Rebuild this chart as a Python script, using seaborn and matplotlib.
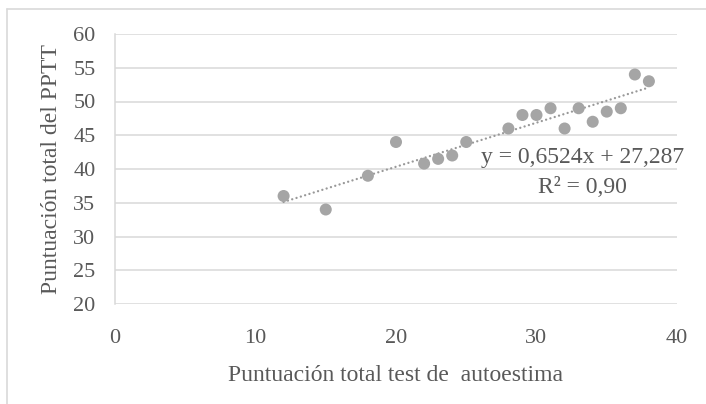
import numpy as np
import pandas as pd
import matplotlib
matplotlib.use("Agg")
import matplotlib.pyplot as plt
import seaborn as sns
from matplotlib.lines import Line2D

# data
autoestima = [12, 15, 18, 20, 22, 23, 24, 25, 28, 29, 30, 31, 32, 33, 34, 35, 36, 37, 38]
pptt = [36, 34, 39, 44, 40.8, 41.5, 42, 44, 46, 48, 48, 49, 46, 49, 47, 48.5, 49, 54, 53]
slope = 0.6524
intercept = 27.287
r2 = 0.90

x_ticks = [0, 10, 20, 30, 40]
y_ticks = [20, 25, 30, 35, 40, 45, 50, 55, 60]

df = pd.DataFrame({'x': autoestima, 'y': pptt})

sns.set_theme(style="whitegrid")
plt.rcParams['font.family'] = ['Liberation Serif', 'DejaVu Serif']

txt = '#595959'
pt_col = '#A5A5A5'

fig = plt.figure(figsize=(7.06, 4.04), dpi=100)
ax = fig.add_axes([115/706, 1-304/404, 562/706, 270/404])
ax.set_facecolor('white')

sns.scatterplot(data=df, x='x', y='y', ax=ax, color=pt_col, s=75,
                edgecolor='none', zorder=3)

# trendline from the equation shown on the chart
xs = np.array([min(autoestima), max(autoestima)])
ax.plot(xs, slope * xs + intercept, color='#999999', lw=1.7,
        linestyle=(0, (0.01, 1.9)), dash_capstyle='round', zorder=2)

ax.set_xlim(0, 40)
ax.set_ylim(20, 60)
ax.set_xticks(x_ticks)
ax.set_yticks(y_ticks)
ax.grid(axis='y', color='#D9D9D9', lw=1.1)
ax.grid(axis='x', visible=False)
for s in ['top', 'right', 'bottom']:
    ax.spines[s].set_visible(False)
ax.spines['left'].set_color('#D9D9D9')
ax.spines['left'].set_linewidth(1.1)
ax.tick_params(axis='both', length=0, labelsize=16, colors=txt)
ax.tick_params(axis='x', pad=18)
ax.tick_params(axis='y', pad=14)

ax.set_xlabel('Puntuación total test de  autoestima', fontsize=17, color=txt)
ax.set_ylabel('Puntuación total del PPTT', fontsize=17, color=txt)
ax.xaxis.set_label_coords(0.5, -0.225)
ax.yaxis.set_label_coords(-0.095, 0.5)

eq = 'y = ' + f'{slope:.4f}'.replace('.', ',') + 'x + ' + f'{intercept:.3f}'.replace('.', ',')
ax.text(33.27, 41.63, eq, ha='center', va='center', fontsize=17, color=txt, clip_on=False)
ax.text(33.3, 37.19, 'R² = ' + f'{r2:.2f}'.replace('.', ','), ha='center', va='center',
        fontsize=17, color=txt, clip_on=False)

# chart area border
fig.add_artist(Line2D([7/706, 7/706], [0, 1-9/404], color='#D9D9D9', lw=1.2, transform=fig.transFigure))
fig.add_artist(Line2D([7/706, 1], [1-9/404, 1-9/404], color='#D9D9D9', lw=1.2, transform=fig.transFigure))

plt.savefig('out.png', dpi=100)
